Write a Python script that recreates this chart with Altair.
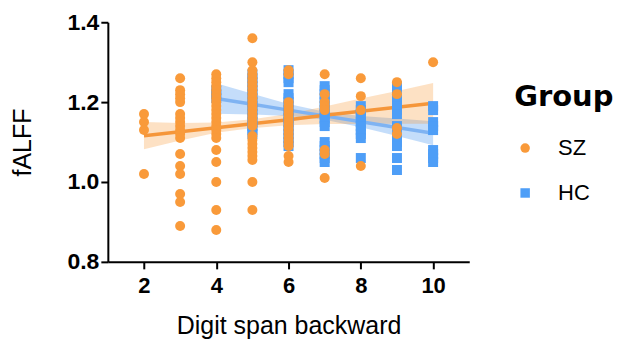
import altair as alt
import pandas as pd

# ---- point data (fALFF by digit span backward) ----
sz_2 = [1.17, 1.15, 1.13, 1.02]
sz_3 = [1.26, 1.23, 1.22, 1.21, 1.20, 1.17, 1.16, 1.15, 1.14, 1.13, 1.12, 1.11,
        1.07, 1.04, 1.02, 0.97, 0.95, 0.89]
sz_4 = [1.27, 1.26, 1.25, 1.24, 1.23, 1.22, 1.21, 1.20, 1.19, 1.18, 1.17, 1.16,
        1.15, 1.14, 1.13, 1.12, 1.11, 1.08, 1.05, 1.00, 0.93, 0.88]
sz_5 = [1.36, 1.30, 1.28, 1.27, 1.26, 1.25, 1.24, 1.23, 1.22, 1.21, 1.20, 1.19,
        1.18, 1.17, 1.16, 1.15, 1.14, 1.115, 1.105, 1.095, 1.085, 1.075, 1.065,
        1.055, 1.00, 0.93]
sz_6 = [1.28, 1.27, 1.20, 1.19, 1.18, 1.17, 1.16, 1.15, 1.14, 1.13, 1.12, 1.11,
        1.10, 1.09, 1.065, 1.05]
sz_7 = [1.27, 1.22, 1.20, 1.19, 1.18, 1.08, 1.07, 1.01]
sz_8 = [1.26, 1.215, 1.18, 1.04]
sz_9 = [1.25, 1.22, 1.135, 1.12]
sz_10 = [1.30]

hc_4 = [1.23, 1.22, 1.21]
hc_5 = [1.27, 1.26, 1.25, 1.24, 1.23, 1.22, 1.21, 1.20, 1.19, 1.18, 1.17, 1.16,
        1.15, 1.14, 1.13, 1.12]
hc_6 = [1.28, 1.27, 1.26, 1.25, 1.22, 1.21, 1.20, 1.19, 1.18, 1.17, 1.16, 1.15,
        1.14, 1.13, 1.12, 1.11, 1.10, 1.09]
hc_7 = [1.24, 1.23, 1.22, 1.21, 1.20, 1.19, 1.18, 1.17, 1.16, 1.15, 1.14,
        1.10, 1.09, 1.08, 1.07, 1.06, 1.05]
hc_8 = [1.19, 1.18, 1.17, 1.16, 1.15, 1.14, 1.13, 1.12, 1.11, 1.06]
hc_9 = [1.24, 1.23, 1.22, 1.21, 1.20, 1.19, 1.18, 1.17, 1.14, 1.13, 1.12, 1.11,
        1.10, 1.09, 1.06, 1.03]
hc_10 = [1.19, 1.18, 1.15, 1.14, 1.13, 1.08, 1.07, 1.06, 1.05]

# ---- fitted lines and 95% bands ----
sz_fit_x = [2, 3, 4, 5, 6, 7, 8, 9, 10]
sz_fit = [1.116, 1.126, 1.136, 1.146, 1.156, 1.167, 1.177, 1.187, 1.197]
sz_lo = [1.082, 1.104, 1.123, 1.135, 1.142, 1.145, 1.145, 1.146, 1.146]
sz_hi = [1.150, 1.148, 1.149, 1.157, 1.170, 1.189, 1.209, 1.228, 1.248]

hc_fit_x = [4, 5, 6, 7, 8, 9, 10]
hc_fit = [1.209, 1.1945, 1.180, 1.1655, 1.151, 1.1365, 1.122]
hc_lo = [1.171, 1.169, 1.165, 1.156, 1.137, 1.115, 1.092]
hc_hi = [1.247, 1.221, 1.195, 1.176, 1.165, 1.159, 1.152]

groups = ["SZ", "HC"]
colors = ["#F99A3A", "#4E9EF7"]

rows = []
for span, vals in [(4, hc_4), (5, hc_5), (6, hc_6), (7, hc_7), (8, hc_8), (9, hc_9), (10, hc_10)]:
    for v in vals:
        rows.append({"span": span, "fALFF": v, "Group": "HC"})
for span, vals in [(2, sz_2), (3, sz_3), (4, sz_4), (5, sz_5), (6, sz_6), (7, sz_7),
                   (8, sz_8), (9, sz_9), (10, sz_10)]:
    for v in vals:
        rows.append({"span": span, "fALFF": v, "Group": "SZ"})
points = pd.DataFrame(rows)

sz_band = pd.DataFrame({"span": sz_fit_x, "fit": sz_fit, "lo": sz_lo, "hi": sz_hi})
hc_band = pd.DataFrame({"span": hc_fit_x, "fit": hc_fit, "lo": hc_lo, "hi": hc_hi})

FONT = "Liberation Sans"

xscale = alt.Scale(domain=[1, 11], nice=False, zero=False)
yscale = alt.Scale(domain=[0.8, 1.4], nice=False, zero=False)

xaxis = alt.Axis(values=[2, 4, 6, 8, 10], title="Digit span backward", grid=False,
                 domainColor="black", domainWidth=2, tickColor="black", tickWidth=2,
                 tickSize=7, labelFont=FONT, labelFontWeight="bold", labelFontSize=22,
                 labelColor="black", labelPadding=7, titleFont=FONT, titleFontSize=25,
                 titleFontWeight="normal", titleColor="black", titleY=72,
                 titleBaseline="alphabetic")
yaxis = alt.Axis(values=[0.8, 1.0, 1.2, 1.4], format=".1f", title="fALFF", grid=False,
                 domainColor="black", domainWidth=2, tickColor="black", tickWidth=2,
                 tickSize=7, labelFont=FONT, labelFontWeight="bold", labelFontSize=23,
                 labelColor="black", labelPadding=2, titleFont=FONT, titleFontSize=25,
                 titleFontWeight="normal", titleColor="black", titleX=-85, titleY=120,
                 titleAngle=270, titleAlign="center", titleBaseline="middle")

def band(df, color):
    return alt.Chart(df).mark_area(color=color, opacity=0.3).encode(
        x=alt.X("span:Q", scale=xscale, axis=xaxis),
        y=alt.Y("lo:Q", scale=yscale, axis=yaxis),
        y2="hi:Q",
    )

def fitline(df, color):
    return alt.Chart(df).mark_line(color=color, strokeWidth=3.5).encode(
        x=alt.X("span:Q", scale=xscale),
        y=alt.Y("fit:Q", scale=yscale),
    )

pts = alt.Chart(points).mark_point(filled=True, opacity=1, size=100).encode(
    x=alt.X("span:Q", scale=xscale, axis=xaxis),
    y=alt.Y("fALFF:Q", scale=yscale, axis=yaxis),
    color=alt.Color("Group:N", scale=alt.Scale(domain=groups, range=colors),
                    legend=alt.Legend(title="Group", orient="none", legendX=407, legendY=61,
                                      padding=0, titleFont="DejaVu Sans", titleFontSize=29,
                                      titleFontWeight="bold", titleColor="black",
                                      titlePadding=25, labelFont=FONT, labelFontSize=22,
                                      labelColor="black", labelOffset=22, rowPadding=23,
                                      symbolSize=90)),
    shape=alt.Shape("Group:N", scale=alt.Scale(domain=groups, range=["circle", "square"]),
                    legend=alt.Legend(title="Group", orient="none", legendX=407, legendY=61)),
)

chart = alt.layer(
    band(hc_band, "#3D8EF0"),
    band(sz_band, "#F99A3A"),
    fitline(hc_band, "#7FB3F2"),
    fitline(sz_band, "#F5963A"),
    pts,
).properties(
    width=362, height=240,
    autosize=alt.AutoSizeParams(type="none"),
    padding={"left": 100, "top": 14, "right": 150, "bottom": 79},
).configure_view(stroke=None)

chart.save("out.html", embed_options={"renderer": "svg", "actions": False})
